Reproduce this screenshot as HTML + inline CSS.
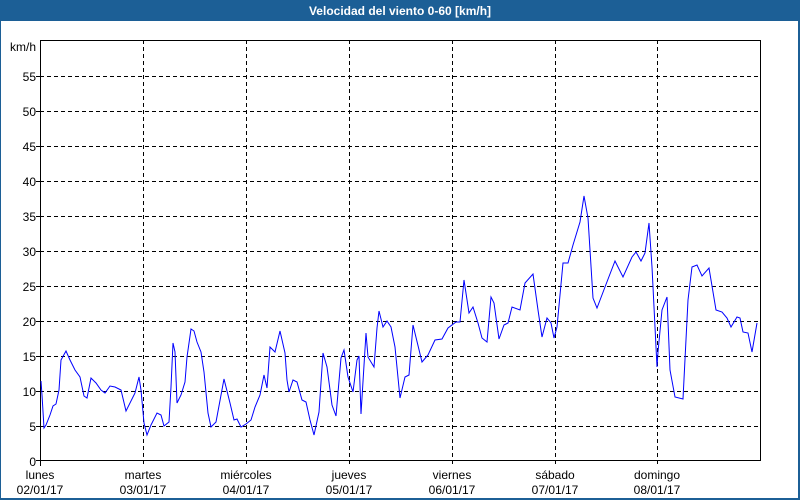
<!DOCTYPE html>
<html><head><meta charset="utf-8"><style>
body{margin:0;width:800px;height:500px;overflow:hidden;background:#fff;font-family:"Liberation Sans",sans-serif}
</style></head><body>
<svg width="800" height="500" xmlns="http://www.w3.org/2000/svg" style="display:block">
<rect x="0" y="0" width="800" height="500" fill="#1c5f96"/>
<rect x="1" y="21" width="797" height="477" fill="#fff"/>
<text x="400" y="15" fill="#fff" font-size="12" font-weight="bold" text-anchor="middle" font-family="Liberation Sans, sans-serif">Velocidad del viento 0-60 [km/h]</text>
<g stroke="#000" stroke-width="1" stroke-dasharray="4,3" fill="none" shape-rendering="crispEdges">
<path d="M40 76.5H760M40 111.5H760M40 146.5H760M40 181.5H760M40 216.5H760M40 251.5H760M40 286.5H760M40 321.5H760M40 356.5H760M40 391.5H760M40 426.5H760"/>
<path d="M143.5 40V466M246.5 40V466M349.5 40V466M452.5 40V466M555.5 40V466M657.5 40V466"/>
</g>
<g stroke="#000" stroke-width="1" fill="none" shape-rendering="crispEdges">
<rect x="40.5" y="40.5" width="720" height="420"/>
<path d="M36 76.5H40M36 111.5H40M36 146.5H40M36 181.5H40M36 216.5H40M36 251.5H40M36 286.5H40M36 321.5H40M36 356.5H40M36 391.5H40M36 426.5H40M36 460.5H40M40.5 460V466"/>
</g>
<g font-size="12" fill="#000" text-anchor="end" font-family="Liberation Sans, sans-serif">
<text x="36" y="51">km/h</text>
<text x="36" y="81">55</text><text x="36" y="116">50</text><text x="36" y="151">45</text><text x="36" y="186">40</text><text x="36" y="221">35</text><text x="36" y="256">30</text><text x="36" y="291">25</text><text x="36" y="326">20</text><text x="36" y="361">15</text><text x="36" y="396">10</text><text x="36" y="431">5</text><text x="36" y="466">0</text>
</g>
<g font-size="12" fill="#000" text-anchor="middle" font-family="Liberation Sans, sans-serif">
<text x="40" y="479">lunes</text><text x="40" y="494">02/01/17</text>
<text x="143" y="479">martes</text><text x="143" y="494">03/01/17</text>
<text x="246" y="479">miércoles</text><text x="246" y="494">04/01/17</text>
<text x="349" y="479">jueves</text><text x="349" y="494">05/01/17</text>
<text x="452" y="479">viernes</text><text x="452" y="494">06/01/17</text>
<text x="555" y="479">sábado</text><text x="555" y="494">07/01/17</text>
<text x="657" y="479">domingo</text><text x="657" y="494">08/01/17</text>
</g>
<polyline fill="none" stroke="#0000ff" stroke-width="1" points="41,381 42,395 44,428 46,425 50,415 53,406 56,404 59,390 61,360 66,351 70,360 75,370 80,377 84,396 87,398 91,378 96,383 101,390 105,393 110,386 115,387 121,390 126,411 135,393 139,377 141,390 144,423 147,435 151,425 157,413 161,415 164,426 169,422 171,387 173,343 175,352 177,403 181,395 185,382 187,357 191,329 194,331 197,342 201,352 204,372 208,413 211,427 216,422 224,379 230,403 234,420 237,419 241,427 246,424 251,420 255,407 260,395 264,375 267,388 270,347 275,352 280,331 285,353 287,380 289,392 293,380 297,382 302,400 306,402 310,420 314,435 319,412 323,353 327,367 332,405 336,416 341,358 344,350 348,377 353,392 357,360 359,356 361,414 366,333 368,357 374,367 377,328 379,311 383,327 387,321 391,327 395,347 400,398 405,377 409,375 413,325 422,362 428,355 435,340 442,339 448,328 456,322 460,322 464,280 469,313 473,307 478,323 482,338 487,342 491,297 494,303 499,339 504,325 508,323 512,307 520,310 525,283 533,274 538,310 542,337 547,318 551,323 554,338 557,327 563,263 568,263 573,245 580,222 584,196 588,218 593,298 597,308 605,287 615,261 623,277 632,257 636,252 641,261 645,253 649,223 652,267 657,367 658,352 662,310 667,297 670,370 675,397 683,399 688,300 692,267 697,265 702,276 709,268 716,310 722,312 727,318 731,327 737,317 740,318 743,332 748,333 752,352 757,323"/>
</svg>
</body></html>
